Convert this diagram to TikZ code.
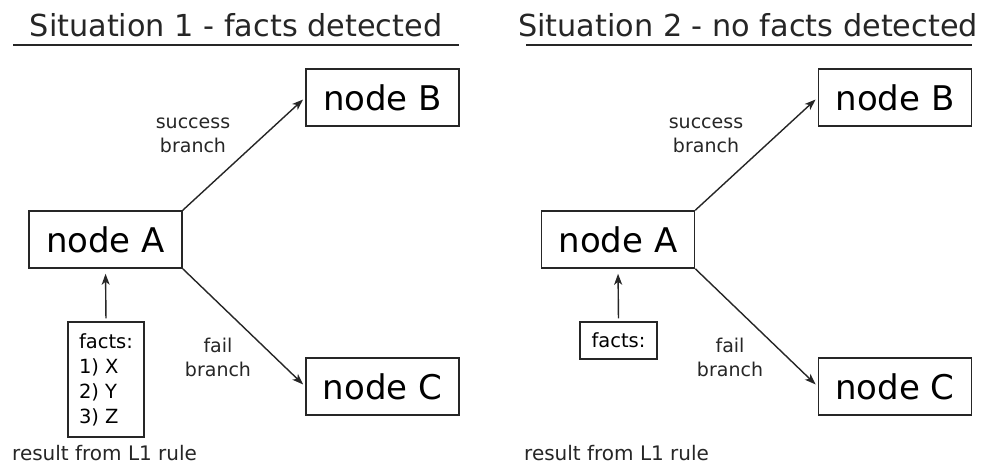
\documentclass[tikz,border=0pt]{standalone}
\usepackage{fontspec}
\setmainfont{DejaVu Sans}
\usetikzlibrary{arrows.meta}
\begin{document}
\begin{tikzpicture}[x=1pt,y=-1pt,
  box/.style={draw=black!85,line width=1.5pt,inner sep=0pt,
    minimum width=153pt,minimum height=57pt,font=\fontsize{34}{40}\selectfont},
  factbox/.style={draw=black!85,line width=1.5pt,inner sep=0pt,align=left,
    font=\fontsize{19.5}{25}\selectfont},
  lbl/.style={align=center,font=\fontsize{19}{24}\selectfont,text=black!85},
  note/.style={anchor=west,inner sep=0pt,font=\fontsize{20}{24}\selectfont,text=black!85},
  heading/.style={inner sep=0pt,font=\fontsize{30.3}{36}\selectfont,text=black!85},
  conn/.style={line width=1.4pt,draw=black!85,
    -{Stealth[length=11pt,width=8pt,inset=3pt]},shorten >=3pt}
]
\useasboundingbox[fill=white] (0,0) rectangle (984,464);

% ---------- left panel: facts detected ----------
\node[heading] (t1) at (236,25) {Situation 1 - facts detected};
\coordinate (u1a) at (13,45);
\coordinate (u1b) at (459,45);
\draw[line width=1.5pt,black!85] (u1a) -- (u1b);

\node[box] (a1) at (105.5,239.5) {node A};
\node[box] (b1) at (382.5,97.5) {node B};
\node[box] (c1) at (382.5,386.5) {node C};
\node[factbox,minimum width=76pt,minimum height=115pt] (f1) at (106,379.5)
  {facts:\\1) X\\2) Y\\3) Z};

\draw[conn] (a1.north east) -- (b1.west);
\draw[conn] (a1.south east) -- (c1.west);
\draw[conn,shorten <=3pt,shorten >=5pt] (f1.north) -- (a1.south);

\node[lbl] (s1) at (193,135) {success\\branch};
\node[lbl] (x1) at (218,357) {fail\\branch};
\node[note] (r1) at (12,453) {result from L1 rule};

% ---------- right panel: no facts detected ----------
\node[heading] (t2) at (748,25) {Situation 2 - no facts detected};
\coordinate (u2a) at (526,45);
\coordinate (u2b) at (972,45);
\draw[line width=1.5pt,black!85] (u2a) -- (u2b);

\node[box] (a2) at (618,239.5) {node A};
\node[box] (b2) at (895,97.5) {node B};
\node[box] (c2) at (895,386.5) {node C};
\node[factbox,minimum width=77pt,minimum height=37pt] (f2) at (618.5,340.5)
  {facts:};

\draw[conn] (a2.north east) -- (b2.west);
\draw[conn] (a2.south east) -- (c2.west);
\draw[conn,shorten <=3pt,shorten >=5pt] (f2.north) -- (a2.south);

\node[lbl] (s2) at (706,135) {success\\branch};
\node[lbl] (x2) at (730,357) {fail\\branch};
\node[note] (r2) at (524,453) {result from L1 rule};
\end{tikzpicture}
\end{document}
